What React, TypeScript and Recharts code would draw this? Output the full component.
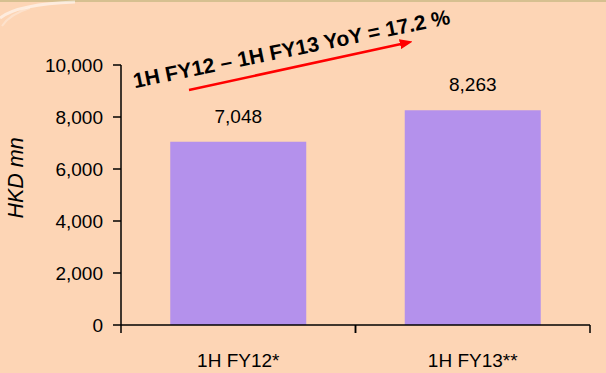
import React from 'react';
import { BarChart, Bar, XAxis, YAxis, LabelList } from 'recharts';

const categories = ['1H FY12*', '1H FY13**'];
const revenue = [7048, 8263];
const yTicks = [0, 2000, 4000, 6000, 8000, 10000];
const yLabel = 'HKD mn';
const annotation = '1H FY12 \u2013 1H FY13 YoY = 17.2 %';

const data = categories.map((c, i) => ({ name: c, value: revenue[i] }));

const FONT = 'Arial, "Liberation Sans", Arimo, sans-serif';
const fmt = (v: number) => v.toLocaleString('en-US');

const TICK_SIZE = 8;
const TICK_MARGIN = 21;

const XTick = (props: any) => {
  const { x, y, payload } = props;
  const half = payload && typeof payload.offset === 'number' && payload.offset > 0 ? payload.offset : 117.25;
  const axisY = y - TICK_SIZE - TICK_MARGIN;
  return (
    <g>
      <line x1={x - half} x2={x - half} y1={axisY} y2={axisY + TICK_SIZE} stroke="#000" strokeWidth={1.5} />
      <line x1={x + half} x2={x + half} y1={axisY} y2={axisY + TICK_SIZE} stroke="#000" strokeWidth={1.5} />
      <text x={x} y={y} dy="0.71em" textAnchor="middle" fontFamily={FONT} fontSize={19} fill="#000">
        {payload.value}
      </text>
    </g>
  );
};

const YTitle = (props: any) => {
  const vb = props.viewBox || { x: 0, y: 65, width: 121, height: 260 };
  const cx = 16;
  const cy = vb.y + vb.height / 2 - 17;
  return (
    <text
      x={cx}
      y={cy}
      transform={`rotate(-90, ${cx}, ${cy})`}
      textAnchor="middle"
      dominantBaseline="central"
      fontFamily={FONT}
      fontStyle="italic"
      fontSize={21.5}
      fill="#000"
    >
      {yLabel}
    </text>
  );
};

export default function App() {
  return (
    <div style={{ position: 'absolute', left: 0, top: 0, width: 606, height: 373, background: '#FDD5B5', overflow: 'hidden', fontFamily: FONT }}>
      <div style={{ position: 'absolute', left: 0, top: 0, width: 606, height: 2, background: '#D6C090' }} />
      <svg width={606} height={40} style={{ position: 'absolute', left: 0, top: 0, pointerEvents: 'none' }}>
        <path d="M0,18 Q18,4 75,2" fill="none" stroke="#FFFFFF" strokeOpacity={0.55} strokeWidth={3} />
        <path d="M2,26 Q10,14 30,8" fill="none" stroke="#FFFFFF" strokeOpacity={0.3} strokeWidth={2} />
      </svg>
      <BarChart
        width={606}
        height={373}
        data={data}
        margin={{ top: 65, right: 16, bottom: 0, left: 0 }}
        barCategoryGap="21%"
      >
        <XAxis
          dataKey="name"
          height={48}
          axisLine={{ stroke: '#000', strokeWidth: 1.5 }}
          tickLine={false}
          tickSize={TICK_SIZE}
          tickMargin={TICK_MARGIN}
          tick={<XTick />}
          interval={0}
        />
        <YAxis
          width={121}
          domain={[0, 10000]}
          ticks={yTicks}
          tickFormatter={fmt}
          axisLine={{ stroke: '#000', strokeWidth: 1.5 }}
          tickLine={{ stroke: '#000', strokeWidth: 1.5 }}
          tickSize={8}
          tickMargin={10}
          tick={{ fontFamily: FONT, fontSize: 19, fill: '#000' }}
          label={<YTitle />}
        />
        <Bar dataKey="value" fill="#B491EC" isAnimationActive={false}>
          <LabelList
            dataKey="value"
            position="top"
            offset={19}
            formatter={(v: any) => fmt(Number(v))}
            style={{ fontFamily: FONT, fontSize: 19, fill: '#000' }}
          />
        </Bar>
      </BarChart>
      <svg width={606} height={373} style={{ position: 'absolute', left: 0, top: 0, pointerEvents: 'none' }}>
        <defs>
          <marker id="arrowHead" markerWidth="12" markerHeight="10" refX="1" refY="5" orient="auto" markerUnits="userSpaceOnUse">
            <path d="M0,0 L13,5 L0,10 Z" fill="#FF0000" />
          </marker>
        </defs>
        <line x1={189} y1={90} x2={401} y2={44} stroke="#FF0000" strokeWidth={2.5} markerEnd="url(#arrowHead)" />
        <text
          x={293}
          y={56}
          transform="rotate(-11.5, 293, 56)"
          textAnchor="middle"
          fontFamily={FONT}
          fontWeight="bold"
          fontSize={21}
          fill="#000"
        >
          {annotation}
        </text>
      </svg>
    </div>
  );
}
